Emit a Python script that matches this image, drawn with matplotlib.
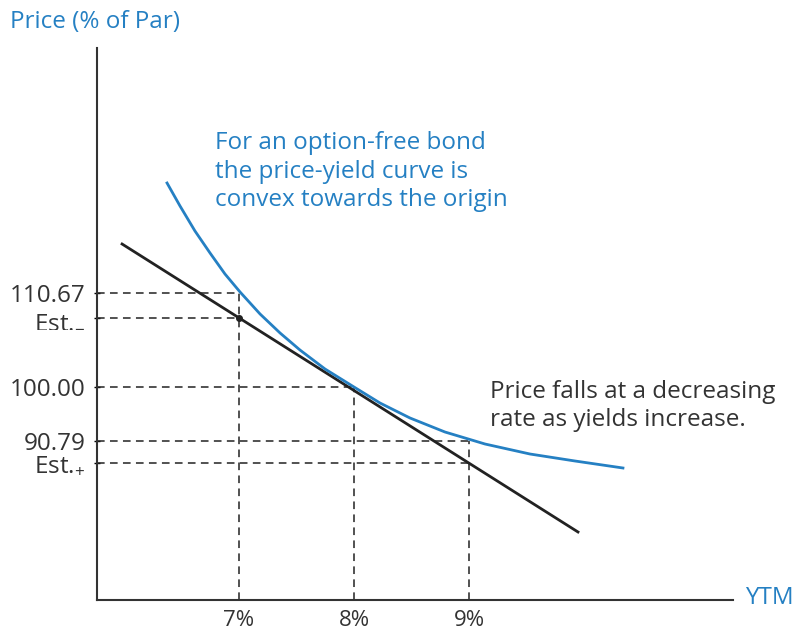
import matplotlib.pyplot as plt

plt.rcParams['font.family'] = ['Open Sans', 'DejaVu Sans']
plt.rcParams['mathtext.fontset'] = 'custom'
plt.rcParams['mathtext.rm'] = 'Open Sans'

# schematic price-yield diagram (y in drawing units above the x axis)
curve_ytm = [6.374, 6.487, 6.617, 6.748, 6.878, 7.009, 7.183, 7.357, 7.530,
             7.748, 8.000, 8.226, 8.487, 8.791, 9.139, 9.530, 9.922, 10.339]
curve_price = [417, 394, 369, 347, 326, 308, 286, 267, 250,
               231, 213, 197, 182, 168, 156, 146, 139, 132]

tangent_ytm = [5.983, 9.948]
tangent_price = [356, 68]

ytm_ticks = [7, 8, 9]
ytm_labels = ['7%', '8%', '9%']

price_levels = [307, 282, 213, 159, 137]
price_labels = ['110.67', r'Est.$_{\mathrm{-}}$', '100.00', '90.79', r'Est.$_{+}$']
# which yield each dashed level belongs to
level_ytm = [7, 7, 8, 9, 9]

blue = '#2580c3'
dark = '#222222'
txt = '#333333'
fs = 17.5

fig = plt.figure(figsize=(7.98, 6.35), dpi=100)
ax = fig.add_axes([97/798, 35/635, 636/798, 552/635])
ax.set_xlim(5.765, 11.296)
ax.set_ylim(0, 552)

# dashed guide lines
for yv, xv in zip(price_levels, level_ytm):
    ax.plot([5.765, xv], [yv, yv], color=dark, lw=1.1, dashes=(5, 3.5))
for xv in ytm_ticks:
    top = max(p for p, x in zip(price_levels, level_ytm) if x == xv)
    ax.plot([xv, xv], [0, top], color=dark, lw=1.1, dashes=(5, 3.5))

ax.plot(tangent_ytm, tangent_price, color=dark, lw=2)
ax.plot(curve_ytm, curve_price, color=blue, lw=2, solid_joinstyle='round')
ax.plot([7], [price_levels[1]], 'o', color=dark, ms=4)

for s in ['top', 'right']:
    ax.spines[s].set_visible(False)
for s in ['left', 'bottom']:
    ax.spines[s].set_color('#333333')
    ax.spines[s].set_linewidth(1.5)

ax.set_xticks(ytm_ticks)
ax.set_xticklabels(ytm_labels, color=txt, fontsize=16)
ax.tick_params(axis='x', length=0, pad=7)
ax.set_yticks(price_levels)
ax.set_yticklabels(price_labels, color=txt, fontsize=fs)
ax.tick_params(axis='y', direction='inout', length=5, width=1, pad=6)

ax.text(6.79, 469, 'For an option-free bond\nthe price-yield curve is\nconvex towards the origin',
        color=blue, fontsize=fs, va='top', ha='left', linespacing=1.25)
ax.text(9.183, 220, 'Price falls at a decreasing\nrate as yields increase.',
        color=txt, fontsize=fs, va='top', ha='left', linespacing=1.2)

fig.text(10/798, 1 - 22/635, 'Price (% of Par)', color=blue, fontsize=fs, va='center', ha='left')
fig.text(745/798, 1 - 598/635, 'YTM', color=blue, fontsize=fs, va='center', ha='left')

fig.savefig('out.png', dpi=100)
